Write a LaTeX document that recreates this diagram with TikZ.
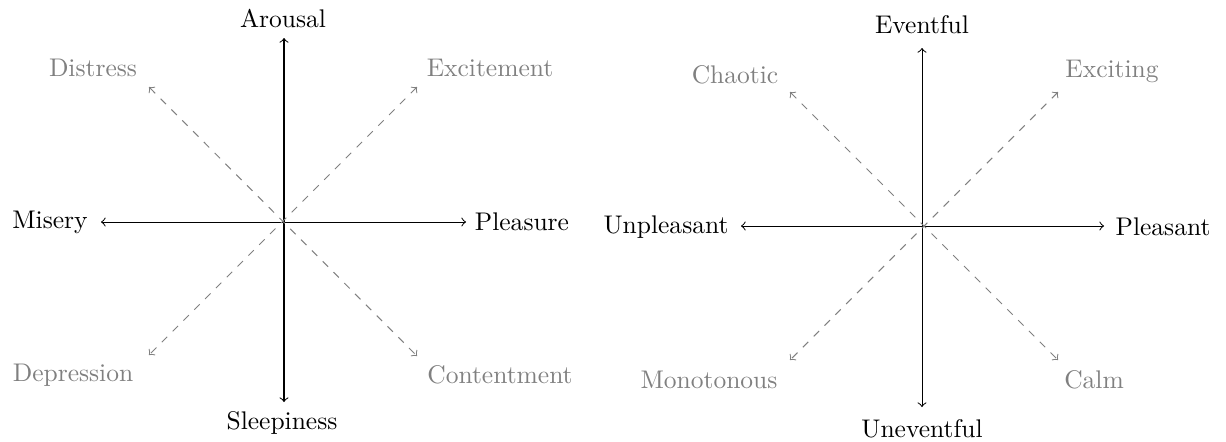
\documentclass[tikz,border=0pt]{standalone}
\begin{document}
\begin{tikzpicture}[x=0.392pt,y=-0.392pt,
  axis/.style={<->,black},
  diag/.style={<->,gray,dashed},
  mainlabel/.style={black,inner sep=0pt},
  sublabel/.style={gray,inner sep=0pt}]
\useasboundingbox (0,0) rectangle (1226,441);
% ---------- left diagram ----------
\coordinate (lN) at (284,38);
\coordinate (lS) at (284,402);
\coordinate (lW) at (101,222);
\coordinate (lE) at (466,222);
\coordinate (lNW) at (149,87);
\coordinate (lSE) at (417,356);
\coordinate (lNE) at (417,87);
\coordinate (lSW) at (149,355);
\draw[axis] (lS) -- (lN);
\draw[axis] (lW) -- (lE);
\draw[diag] (lNW) -- (lSE);
\draw[diag] (lNE) -- (lSW);
\node[mainlabel] (arousal) at (283,18) {Arousal};
\node[mainlabel] (sleepiness) at (282,423) {Sleepiness};
\node[mainlabel] (misery) at (50,222) {Misery};
\node[mainlabel] (pleasure) at (522,222) {Pleasure};
\node[sublabel] (distress) at (93,68) {Distress};
\node[sublabel] (excitement) at (490,68) {Excitement};
\node[sublabel] (depression) at (73,375) {Depression};
\node[sublabel] (contentment) at (500,375) {Contentment};
% ---------- right diagram ----------
\coordinate (rN) at (922,48);
\coordinate (rS) at (922,407);
\coordinate (rW) at (741,226);
\coordinate (rE) at (1104,226);
\coordinate (rNW) at (790,92);
\coordinate (rSE) at (1058,360);
\coordinate (rNE) at (1058,92);
\coordinate (rSW) at (790,360);
\draw[axis] (rS) -- (rN);
\draw[axis] (rW) -- (rE);
\draw[diag] (rNW) -- (rSE);
\draw[diag] (rNE) -- (rSW);
\node[mainlabel] (eventful) at (922,25) {Eventful};
\node[mainlabel] (uneventful) at (922,429) {Uneventful};
\node[mainlabel] (unpleasant) at (666,227) {Unpleasant};
\node[mainlabel] (pleasant) at (1163,227) {Pleasant};
\node[sublabel] (chaotic) at (735,75) {Chaotic};
\node[sublabel] (exciting) at (1112,71) {Exciting};
\node[sublabel] (monotonous) at (709,380) {Monotonous};
\node[sublabel] (calm) at (1094,380) {Calm};
\end{tikzpicture}
\end{document}
